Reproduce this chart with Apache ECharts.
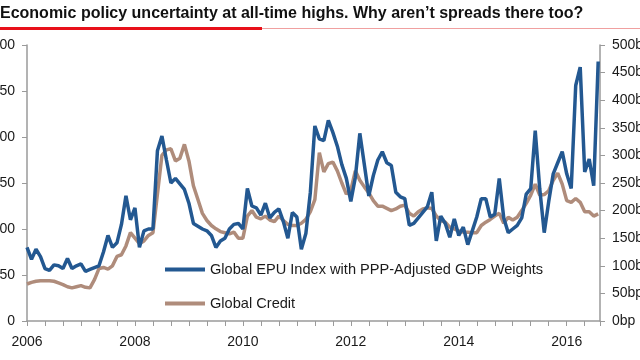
<!DOCTYPE html>
<html>
<head>
<meta charset="utf-8">
<script src="https://cdn.jsdelivr.net/npm/echarts@6/dist/echarts.min.js"></script>
<style>
html,body{margin:0;padding:0;background:#fff;}
#chart{width:640px;height:360px;}
</style>
</head>
<body>
<div id="chart"></div>
<script>
// Monthly data, Jan 2006 .. Aug 2016 (month index 0 = Jan 2006)
const startYear = 2006;
const epuIndex = [
  80, 67, 78, 70, 57, 55, 61, 60, 57, 68, 57, 60,
  62, 54, 56, 58, 60, 75, 93, 80, 85, 105, 136, 110,
  123, 80, 98, 100, 100, 185, 201, 175, 150, 155, 149, 143,
  128, 106, 103, 100, 98, 93, 80, 87, 90, 100, 105, 106,
  100, 144, 125, 123, 115, 128, 112, 118, 122, 108, 90, 118,
  113, 78, 95, 140, 212, 198, 196, 218, 205, 190, 170, 155,
  130, 156, 204, 170, 136, 158, 175, 184, 172, 169, 140, 135,
  133, 104, 106, 112, 118, 124, 140, 87, 114, 106, 91, 111,
  93, 102, 83, 98, 113, 133, 133, 113, 116, 155, 112, 96,
  100, 104, 112, 138, 144, 207, 144, 96, 130, 160, 172, 184,
  160, 144, 256, 276, 162, 176, 147, 282
];
const globalCredit = [
  67, 70, 72, 73, 73, 73, 72, 69, 66, 62, 60, 62,
  64, 61, 60, 75, 95, 97, 94, 100, 117, 120, 136, 160,
  150, 140, 145, 155, 160, 230, 300, 310, 312, 290, 295, 320,
  290, 245, 220, 195, 182, 173, 167, 162, 160, 158, 161, 150,
  150, 190, 200, 188, 185, 190, 183, 180, 190, 182, 175, 173,
  173, 177, 184, 198, 220, 305, 270, 285, 288, 272, 250, 230,
  237, 272, 255, 243, 232, 218, 208, 208, 204, 200, 203, 208,
  210, 195, 190, 198, 203, 205, 204, 190, 182, 179, 170, 167,
  163, 161, 161, 160, 160, 173, 179, 184, 190, 195, 177, 188,
  183, 188, 200, 213, 228, 248, 228, 229, 236, 255, 268, 248,
  218, 215, 222, 215, 198, 198, 190, 194
];
const leftTicks = [0, 50, 100, 150, 200, 250, 300];
const rightTicksBp = [0, 50, 100, 150, 200, 250, 300, 350, 400, 450, 500];
const annotatedIdx = [30, 67, 127];
const seriesNames = ['Global EPU Index with PPP-Adjusted GDP Weights', 'Global Credit'];
const titleText = 'Economic policy uncertainty at all-time highs. Why aren\u2019t spreads there too?';

const FONT = 'Liberation Sans, Arial, sans-serif';
const blue = '#235891';
const brown = '#AF8C7B';
const axisGray = '#9a9a9a';

const epuData = epuIndex.map((v, i) => {
  const k = annotatedIdx.indexOf(i);
  if (k < 0) return [i, v];
  const offsets = [[-5, -4], [-4, -2], [-17, 2]];
  return {
    value: [i, v],
    label: {
      show: true, position: 'top', formatter: String(v),
      offset: offsets[k], color: '#1a1a1a', fontSize: 14, fontFamily: FONT
    }
  };
});
const creditData = globalCredit.map((v, i) => [i, v]);

const chart = echarts.init(document.getElementById('chart'), null, {renderer: 'canvas'});
chart.setOption({
  animation: false,
  backgroundColor: '#fff',
  graphic: [
    {type: 'text', left: 0, top: 6, style: {text: titleText, fill: '#111', font: 'bold 16px ' + FONT}},
    {type: 'rect', shape: {x: 0, y: 27, width: 262, height: 3}, style: {fill: '#e8101a'}},
    {type: 'rect', shape: {x: 262, y: 28, width: 378, height: 1}, style: {fill: '#f0a0a0'}}
  ],
  grid: {left: 27, right: 40, top: 45, bottom: 39, containLabel: false, outerBoundsMode: 'none'},
  legend: {
    orient: 'vertical', left: 160, top: 257, itemWidth: 40, itemHeight: 4, itemGap: 19,
    icon: 'rect',
    textStyle: {color: '#1a1a1a', fontSize: 14.6, fontFamily: FONT},
    data: seriesNames
  },
  xAxis: {
    type: 'value', min: 0, max: 127.4, interval: 4,
    axisLine: {show: true, lineStyle: {color: axisGray, width: 1.5}},
    axisTick: {show: true, length: 5, lineStyle: {color: axisGray}},
    splitLine: {show: false},
    axisLabel: {
      color: '#1a1a1a', fontSize: 14, fontFamily: FONT, margin: 14,
      formatter: v => (Math.abs(v % 24) < 1e-6 ? String(startYear + v / 12) : '')
    }
  },
  yAxis: [
    {
      type: 'value', min: leftTicks[0], max: leftTicks[leftTicks.length - 1], interval: 50,
      axisLine: {show: true, lineStyle: {color: axisGray, width: 1.5}},
      axisTick: {show: true, length: 5, lineStyle: {color: axisGray}},
      splitLine: {show: false},
      axisLabel: {color: '#1a1a1a', fontSize: 14, fontFamily: FONT, margin: 12}
    },
    {
      type: 'value', min: rightTicksBp[0], max: rightTicksBp[rightTicksBp.length - 1], interval: 50,
      position: 'right',
      axisLine: {show: true, lineStyle: {color: axisGray, width: 1.5}},
      axisTick: {show: true, length: 5, lineStyle: {color: axisGray}},
      splitLine: {show: false},
      axisLabel: {color: '#1a1a1a', fontSize: 14, fontFamily: FONT, margin: 12, formatter: '{value}bp'}
    }
  ],
  series: [
    {
      name: seriesNames[1], type: 'line', yAxisIndex: 1, data: creditData,
      showSymbol: false, symbol: 'none', lineStyle: {color: brown, width: 3.5}, itemStyle: {color: brown},
      z: 2
    },
    {
      name: seriesNames[0], type: 'line', yAxisIndex: 0, data: epuData,
      showSymbol: false, symbol: 'none', lineStyle: {color: blue, width: 3.5}, itemStyle: {color: blue},
      z: 3
    }
  ]
});
</script>
</body>
</html>
